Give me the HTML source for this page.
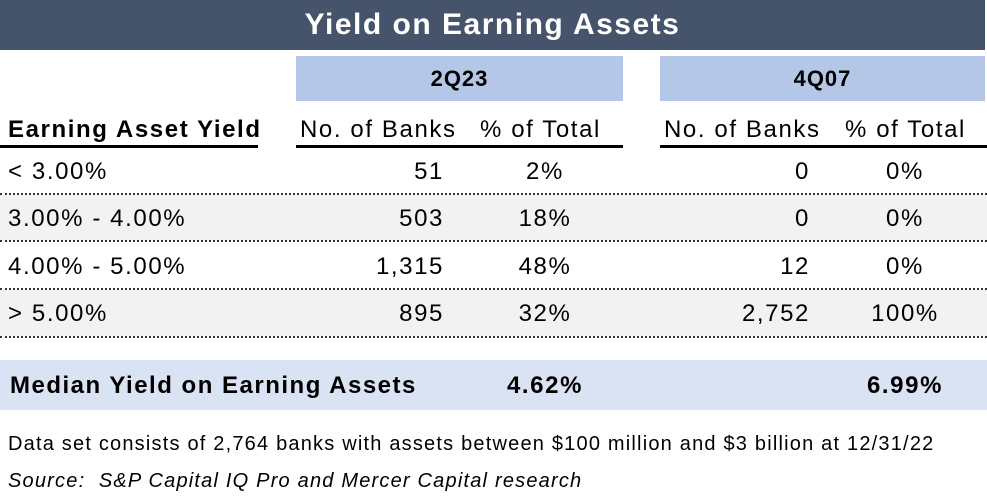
<!DOCTYPE html>
<html><head><style>
body{margin:0;width:987px;height:500px;background:#fff;font-family:"Liberation Sans",Arial,sans-serif;position:relative;overflow:hidden;color:#000}
div{position:absolute;white-space:nowrap}
.t{font-size:24px;letter-spacing:1.6px}
.r{text-align:right}
.c{text-align:center}
.dot{height:0;border-top:2px dotted #333;left:0;width:987px}
</style></head><body>
<div style="left:0;top:0;width:985px;height:50px;background:#46546b"></div>
<div style="left:0;top:8px;width:985px;text-align:center;color:#fff;font-weight:bold;font-size:30px;letter-spacing:1.5px">Yield on Earning Assets</div>
<div style="left:296px;top:56px;width:327px;height:45px;background:#b4c7e7"></div>
<div style="left:660px;top:56px;width:325px;height:45px;background:#b4c7e7"></div>
<div style="left:296px;top:66px;width:327px;text-align:center;font-weight:bold;font-size:22px;letter-spacing:1px">2Q23</div>
<div style="left:660px;top:66px;width:325px;text-align:center;font-weight:bold;font-size:22px;letter-spacing:1px">4Q07</div>

<div class="t" style="left:8px;top:116px;font-weight:bold">Earning Asset Yield</div>
<div class="t" style="left:300px;top:116px">No. of Banks</div>
<div class="t" style="left:480px;top:116px">% of Total</div>
<div class="t" style="left:664px;top:116px">No. of Banks</div>
<div class="t" style="left:845px;top:116px">% of Total</div>
<div style="left:0;top:145px;width:258px;height:3px;background:#000"></div>
<div style="left:296px;top:145px;width:327px;height:3px;background:#000"></div>
<div style="left:660px;top:145px;width:327px;height:3px;background:#000"></div>

<div style="left:0;top:195px;width:987px;height:46px;background:#f2f2f2"></div>
<div style="left:0;top:290px;width:987px;height:46px;background:#f2f2f2"></div>
<div class="dot" style="top:193px"></div>
<div class="dot" style="top:240px"></div>
<div class="dot" style="top:288px"></div>
<div class="dot" style="top:336px"></div>

<div class="t" style="left:8px;top:158px">&lt; 3.00%</div>
<div class="t r" style="left:300px;width:144px;top:158px">51</div>
<div class="t c" style="left:495px;width:100px;top:158px">2%</div>
<div class="t r" style="left:660px;width:150px;top:158px">0</div>
<div class="t c" style="left:855px;width:100px;top:158px">0%</div>

<div class="t" style="left:8px;top:205px">3.00% - 4.00%</div>
<div class="t r" style="left:300px;width:144px;top:205px">503</div>
<div class="t c" style="left:495px;width:100px;top:205px">18%</div>
<div class="t r" style="left:660px;width:150px;top:205px">0</div>
<div class="t c" style="left:855px;width:100px;top:205px">0%</div>

<div class="t" style="left:8px;top:253px">4.00% - 5.00%</div>
<div class="t r" style="left:300px;width:144px;top:253px">1,315</div>
<div class="t c" style="left:495px;width:100px;top:253px">48%</div>
<div class="t r" style="left:660px;width:150px;top:253px">12</div>
<div class="t c" style="left:855px;width:100px;top:253px">0%</div>

<div class="t" style="left:8px;top:300px">&gt; 5.00%</div>
<div class="t r" style="left:300px;width:144px;top:300px">895</div>
<div class="t c" style="left:495px;width:100px;top:300px">32%</div>
<div class="t r" style="left:660px;width:150px;top:300px">2,752</div>
<div class="t c" style="left:855px;width:100px;top:300px">100%</div>

<div style="left:0;top:360px;width:987px;height:50px;background:#dae3f3"></div>
<div class="t" style="left:10px;top:372px;font-weight:bold;letter-spacing:1.5px">Median Yield on Earning Assets</div>
<div class="t c" style="left:485px;width:120px;top:372px;font-weight:bold">4.62%</div>
<div class="t c" style="left:845px;width:120px;top:372px;font-weight:bold">6.99%</div>

<div style="left:8px;top:433px;font-size:20px;letter-spacing:1.2px">Data set consists of 2,764 banks with assets between $100 million and $3 billion at 12/31/22</div>
<div style="left:8px;top:470px;font-size:20px;font-style:italic;letter-spacing:1.2px">Source:&nbsp; S&amp;P Capital IQ Pro and Mercer Capital research</div>
</body></html>
